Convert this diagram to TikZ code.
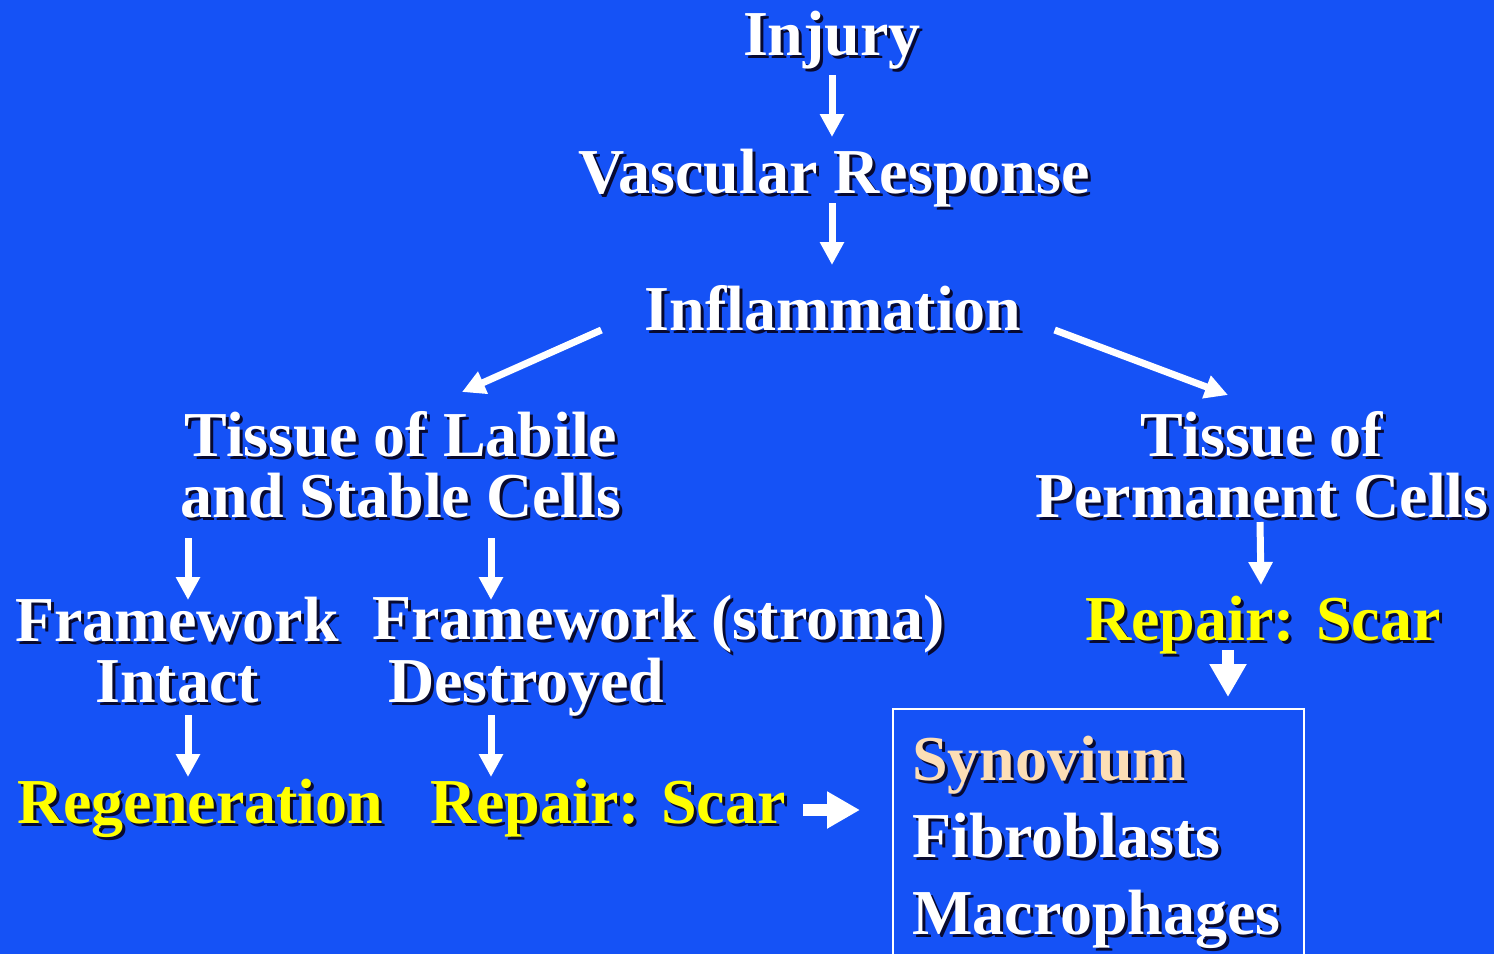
\documentclass[tikz,border=0pt]{standalone}
\usepackage{fontspec}
\setmainfont{Liberation Serif}
\usetikzlibrary{arrows.meta,calc}
\definecolor{slideblue}{RGB}{21,82,246}
\definecolor{shadowc}{RGB}{8,10,48}
\definecolor{scaryellow}{RGB}{255,255,0}
\definecolor{synocol}{RGB}{252,222,182}
% text with a dark drop shadow
\newcommand{\shd}[1]{\makebox[0pt][l]{\hspace{3pt}\raisebox{-3pt}{\textcolor{shadowc}{#1}}}#1}
\tikzset{
  figtext/.style={text=white, inner sep=0pt, font=\fontsize{64}{61}\selectfont\bfseries},
  figyellow/.style={figtext, text=scaryellow},
  figarrow/.style={draw=white, line width=7pt, -{Triangle[length=23pt, width=23pt]}},
  figbig/.style={draw=white, line width=12pt, -{Triangle[length=33pt, width=35pt]}},
}

\begin{document}
\begin{tikzpicture}[x=1pt, y=-1pt,
    cellbox/.style={draw=white, line width=2pt, inner sep=0pt, minimum width=411pt, minimum height=270pt}]
  \useasboundingbox (0,0) rectangle (1494,954);
  \fill[slideblue] (0,0) rectangle (1494,954);
  % main chain
  \node[figtext, anchor=base] (injury) at (832,55) {\shd{Injury}};
  \node[figtext, anchor=base] (vascular) at (834,193) {\shd{Vascular Response}};
  \node[figtext, anchor=base] (inflam) at (833,330) {\shd{Inflammation}};
  \draw[figarrow] ([yshift=-20pt]injury.base) -- ([yshift=56pt]injury.base |- vascular.base);
  \draw[figarrow] ([yshift=-10pt]injury.base |- vascular.base) -- ([yshift=65pt]injury.base |- inflam.base);
  % two kinds of tissue (base = last line)
  \node[figtext, anchor=base, align=center] (labile) at (401,517) {\shd{Tissue of Labile}\\\shd{and Stable Cells}};
  \node[figtext, anchor=base, align=center] (perm) at (1262,517) {\shd{Tissue of}\\\shd{Permanent Cells}};
  \draw[figarrow] ([xshift=-43pt]inflam.base west) -- ([xshift=61pt,yshift=125pt]labile.base);
  \draw[figarrow] ([xshift=33pt]inflam.base east) -- ([xshift=-34pt,yshift=122pt]perm.base);
  % framework
  \node[figtext, anchor=base, align=center] (intact) at (177,702) {\shd{Framework}\\\shd{Intact}};
  \node[figtext, anchor=base west, align=left] (destroyed) at (372,702) {\shd{Framework (stroma)}\\\hspace*{16pt}\shd{Destroyed}};
  \node[figyellow, anchor=base] (scarR) at (1263,640) {\shd{Repair: Scar}};
  \draw[figarrow] ($(intact.base |- labile.base)+(11,21)$) -- ($(intact.base)+(11,-102)$);
  \draw[figarrow] ($(destroyed.base west |- labile.base)+(119,21)$) -- ($(destroyed.base west)+(119,-102)$);
  \draw[figarrow] ($(perm.base)+(-2,5)$) -- ($(scarR.base)+(-2,-55)$);
  % outcome
  \node[figyellow, anchor=base west] (regen) at (17,823) {\shd{Regeneration}};
  \node[figyellow, anchor=base west] (scarL) at (430,823) {\shd{Repair: Scar}};
  \draw[figarrow] ($(intact.base)+(11,13)$) -- ($(regen.base west)+(171,-46)$);
  \draw[figarrow] ($(destroyed.base west)+(119,13)$) -- ($(scarL.base west)+(61,-46)$);
  % cells of the scar
  \node[cellbox, anchor=north west] (box) at (892,708) {};
  \node[figtext, anchor=base west, align=left, font=\fontsize{64}{77}\selectfont\bfseries] (cells) at (912,934)
    {\textcolor{synocol}{\shd{Synovium}}\\\shd{Fibroblasts}\\\shd{Macrophages}};
  \draw[figbig] ($(scarR.base)+(-35,10)$) -- ($(box.north west)+(336,-11)$);
  \draw[figbig] ($(scarL.base east)+(17,-13)$) -- ($(box.north west)+(-32,102)$);
\end{tikzpicture}
\end{document}
